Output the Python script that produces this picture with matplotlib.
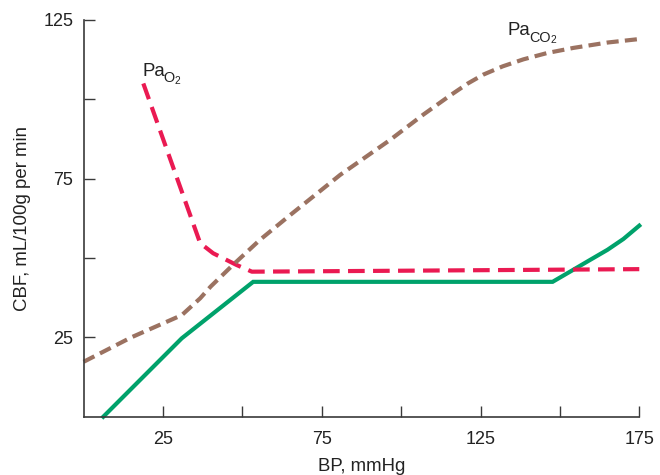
import matplotlib
matplotlib.use("Agg")
import matplotlib.pyplot as plt
from matplotlib.transforms import IdentityTransform

plt.rcParams['font.family'] = ['Liberation Sans', 'DejaVu Sans']

# Data (BP in mmHg, CBF in mL/100g per min)
bp_green = [6.2, 30.9, 53.4, 147.7, 153.7, 159.5, 165, 170, 175]
cbf_green = [0, 24.7, 42.5, 42.5, 46.0, 49.4, 52.6, 56.0, 60.2]

bp_pao2 = [18.8, 36.7, 40.8, 48.2, 53.0, 100, 175]
cbf_pao2 = [105, 54.7, 51.5, 47.8, 45.7, 46.0, 46.5]

bp_paco2 = [0, 15, 30.9, 36.7, 40, 47, 55.5, 65, 80.8, 96.5, 107, 115.4, 121, 125.9, 132, 138.5, 146, 154.2, 165, 175]
cbf_paco2 = [17.3, 25, 32, 37.3, 41, 47.8, 55.7, 63.5, 76.2, 87.2, 95.2, 101.2, 105.0, 107.8, 110.4, 112.6, 114.6, 116.2, 117.9, 119]

xticks = [25, 50, 75, 100, 125, 150, 175]
xticklabels = ['25', '', '75', '', '125', '', '175']
yticks = [25, 50, 75, 100, 125]
yticklabels = ['25', '', '75', '', '125']

green = '#00a26b'
pink = '#ea1a52'
brown = '#9b7261'
axis_col = '#3a3a3a'
text_col = '#222222'
FS = 13.4

fig = plt.figure(figsize=(6.6, 4.75), dpi=100)
ax = fig.add_axes([0.1267, 0.1227, 0.9686 - 0.1267, 0.9579 - 0.1227])

ax.plot(bp_green, cbf_green, color=green, lw=3, solid_joinstyle='miter', clip_on=False)
ax.plot(bp_pao2, cbf_pao2, color=pink, lw=3, dashes=(4, 2), clip_on=False)
ax.plot(bp_paco2, cbf_paco2, color=brown, lw=3, dashes=(2.9, 1.5), clip_on=False)

ax.set_xlim(0, 175)
ax.set_ylim(0, 125)
ax.set_xticks(xticks)
ax.set_xticklabels(xticklabels)
ax.set_yticks(yticks)
ax.set_yticklabels(yticklabels)
ax.tick_params(direction='in', length=8, width=1, color=axis_col, labelsize=13,
               labelcolor=text_col)
ax.tick_params(axis='x', pad=10.5)
ax.tick_params(axis='y', pad=7.4)
for s in ['top', 'right']:
    ax.spines[s].set_visible(False)
for s in ['left', 'bottom']:
    ax.spines[s].set_color(axis_col)
    ax.spines[s].set_linewidth(1.2)

ax.set_xlabel('BP, mmHg', fontsize=FS, color=text_col, labelpad=7)
ax.set_ylabel('CBF, mL/100g per min', fontsize=FS, color=text_col, labelpad=9)

renderer = fig.canvas.get_renderer()


def sub_label(x, y, main, sub, subsub):
    t = ax.text(x, y, main, fontsize=FS, ha='left', va='baseline', color=text_col)
    bb = t.get_window_extent(renderer)
    px, py = ax.transData.transform((x, y))
    t2 = fig.text(bb.x1 - 1.0, py - 6.6, sub, fontsize=FS * 0.77, ha='left', va='baseline',
                  color=text_col, transform=IdentityTransform())
    bb2 = t2.get_window_extent(renderer)
    fig.text(bb2.x1 - 0.3, py - 8.3, subsub, fontsize=FS * 0.55, ha='left', va='baseline',
             color=text_col, transform=IdentityTransform())


sub_label(18.4, 107.4, 'Pa', 'O', '2')
sub_label(133.5, 120.3, 'Pa', 'CO', '2')

fig.savefig('out.png', dpi=100)
